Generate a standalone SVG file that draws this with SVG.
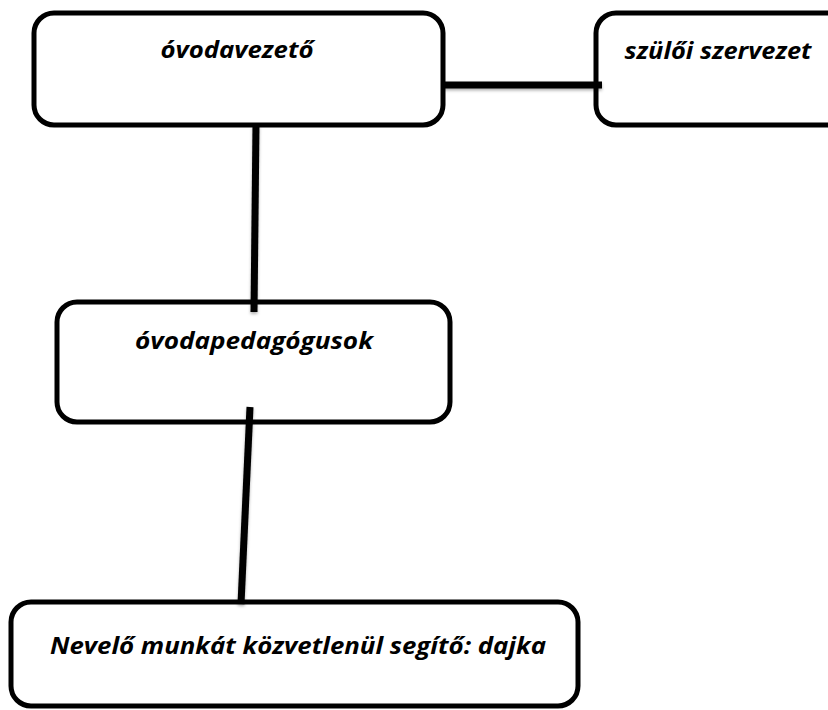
<svg xmlns="http://www.w3.org/2000/svg" width="828" height="710" viewBox="0 0 828 710">
<defs>
<style>
.box{fill:#fff;stroke:#000;stroke-width:5}
.lbl{font-family:"Open Sans","Noto Sans",sans-serif;font-weight:bold;font-style:italic;font-size:24px;fill:#000;text-anchor:middle}
.con{stroke:#000;stroke-width:7;fill:none}
</style>
<filter id="sh" x="-20%" y="-20%" width="140%" height="160%">
<feDropShadow dx="0" dy="2" stdDeviation="1.5" flood-color="#000" flood-opacity="0.3"/>
</filter>
</defs>
<g id="n1"><rect class="box" x="34" y="13" width="409" height="112" rx="20"/><text class="lbl" x="237" y="58" textLength="153" lengthAdjust="spacingAndGlyphs">óvodavezető</text></g>
<g id="n2"><rect class="box" x="596" y="13" width="260" height="112" rx="20"/><text class="lbl" x="718" y="59" textLength="187" lengthAdjust="spacingAndGlyphs">szülői szervezet</text></g>
<g id="n3"><rect class="box" x="57" y="302" width="393" height="120" rx="20"/><text class="lbl" x="254" y="349" textLength="238" lengthAdjust="spacingAndGlyphs">óvodapedagógusok</text></g>
<g id="n4"><rect class="box" x="11" y="602" width="567" height="104" rx="20"/><text class="lbl" x="298" y="654" textLength="496" lengthAdjust="spacingAndGlyphs">Nevelő munkát közvetlenül segítő: dajka</text></g>
<g id="connectors" filter="url(#sh)">
<line class="con" x1="443" y1="85" x2="602" y2="85"/>
<line class="con" x1="256" y1="125" x2="254" y2="312"/>
<line class="con" x1="250" y1="407" x2="241" y2="604"/>
</g>
</svg>
